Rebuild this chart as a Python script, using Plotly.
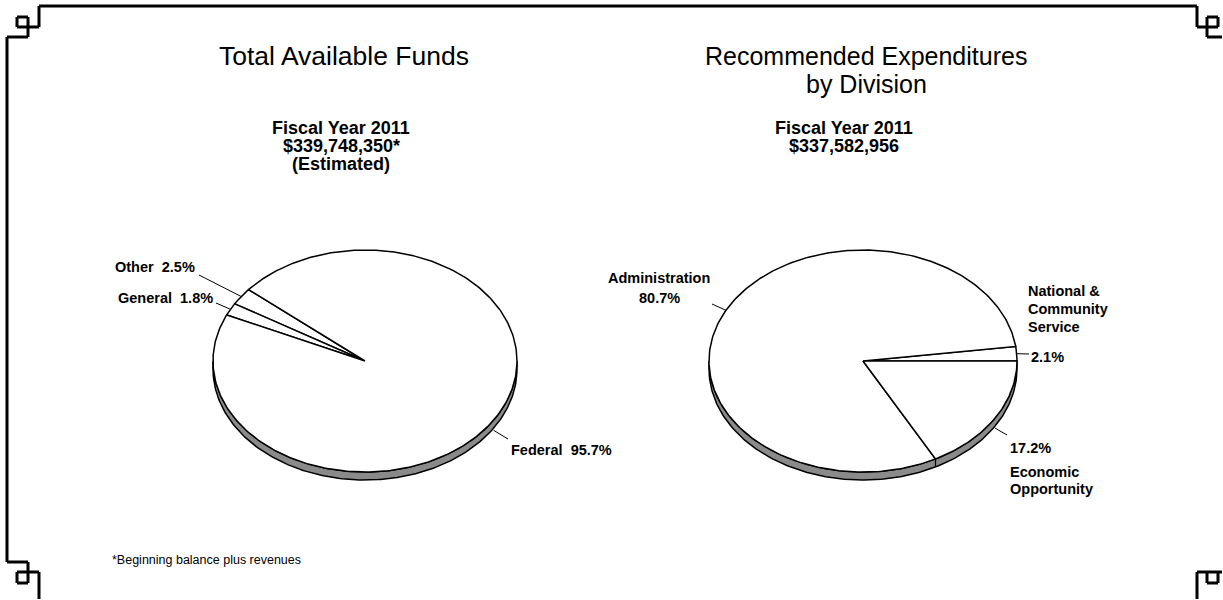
import numpy as np
import plotly.graph_objects as go

FONT = "Liberation Sans, Arial, sans-serif"

# ---- data -------------------------------------------------------------
funds_labels = ["Other", "General", "Federal"]
funds_pct = [2.5, 1.8, 95.7]

div_labels = ["National & Community Service", "Administration", "Economic Opportunity"]
div_pct = [2.1, 80.7, 17.2]

funds_title = ["Total Available Funds"]
funds_sub = ["Fiscal Year 2011", "$339,748,350*", "(Estimated)"]
div_title = ["Recommended Expenditures", "by Division"]
div_sub = ["Fiscal Year 2011", "$337,582,956"]
footnote = "*Beginning balance plus revenues"

# ---- pie geometry (tilted, elliptical pies with a shaded rim) -----------
PIES = {
    "funds": dict(cx=365, cy=361, a=152, b=111, depth=8, start=140),
    "div": dict(cx=863, cy=361, a=154, b=111, depth=8, start=0),
}

# label placement: list of (text lines, x, first y, xanchor, line step), leader end
LABELS = {
    "Other": dict(texts=[(["Other  {p}%"], 197, 267, "right", 18)], tail=(199, 275)),
    "General": dict(texts=[(["General  {p}%"], 215, 298, "right", 18)], tail=(216, 303)),
    "Federal": dict(texts=[(["Federal  {p}%"], 509, 450, "left", 18)], tail=(508, 439)),
    "Administration": dict(texts=[(["Administration", "{p}%"], 659, 278, "center", 20)],
                           tail=(712, 304)),
    "National & Community Service": dict(
        texts=[(["National &", "Community", "Service"], 1026, 291, "left", 18),
               (["{p}%"], 1029, 357, "left", 18)],
        tail=(1029, 354)),
    "Economic Opportunity": dict(
        texts=[(["{p}%"], 1008, 448, "left", 18),
               (["Economic", "Opportunity"], 1008, 472, "left", 17)],
        tail=(1007, 435)),
}

fig = go.Figure()
annotations = []
shapes = []


def ell(g, t_deg, drop=0.0):
    t = np.radians(t_deg)
    return g["cx"] + g["a"] * np.cos(t), g["cy"] - g["b"] * np.sin(t) + drop


def add_line(xs, ys, width=1.0):
    fig.add_trace(go.Scatter(x=xs, y=ys, mode="lines",
                             line=dict(color="black", width=width),
                             hoverinfo="skip", showlegend=False))


def draw_pie(g, labels, pcts):
    # rim on the front half of the ellipse
    t = np.linspace(180, 360, 200)
    xt, yt = ell(g, t)
    xb, yb = ell(g, t[::-1], g["depth"])
    fig.add_trace(go.Scatter(x=np.r_[xt, xb, xt[:1]], y=np.r_[yt, yb, yt[:1]],
                             fill="toself", fillcolor="#8a8a8a", mode="lines",
                             line=dict(color="black", width=1.5),
                             hoverinfo="skip", showlegend=False))
    a0 = g["start"]
    for lab, p in zip(labels, pcts):
        a1 = a0 + p * 3.6
        n = max(int(abs(a1 - a0)), 2) + 1
        ang = np.linspace(a0, a1, n)
        xs, ys = ell(g, ang)
        fig.add_trace(go.Scatter(x=np.r_[g["cx"], xs, g["cx"]],
                                 y=np.r_[g["cy"], ys, g["cy"]],
                                 fill="toself", fillcolor="white", mode="lines",
                                 line=dict(color="black", width=1.5),
                                 name=lab, hoverinfo="name", showlegend=False))
        # seam on the rim where a slice boundary crosses the front half
        m = a0 % 360
        if 180 < m < 360:
            x0, y0 = ell(g, m)
            add_line([x0, x0], [y0, y0 + g["depth"]], 1.2)

        # leader line and label
        mid = (a0 + a1) / 2
        sx, sy = ell(g, mid)
        if np.sin(np.radians(mid)) < 0:
            sy += g["depth"] + 2
        spec = LABELS[lab]
        add_line([sx, spec["tail"][0]], [sy, spec["tail"][1]], 1.0)
        for lines, x, y, xanchor, step in spec["texts"]:
            for i, txt in enumerate(lines):
                annotations.append(dict(
                    x=x, y=y + i * step, xref="x", yref="y",
                    text="<b>" + txt.format(p=p) + "</b>", showarrow=False,
                    xanchor=xanchor, yanchor="middle",
                    font=dict(family=FONT, size=14.5, color="black")))
        a0 = a1


draw_pie(PIES["funds"], funds_labels, funds_pct)
draw_pie(PIES["div"], div_labels, div_pct)


def add_block(lines, x, y0, step, size, bold=False):
    for i, txt in enumerate(lines):
        annotations.append(dict(
            x=x, y=y0 + i * step, xref="x", yref="y",
            text=f"<b>{txt}</b>" if bold else txt, showarrow=False,
            xanchor="center", yanchor="middle",
            font=dict(family=FONT, size=size, color="black")))


add_block(funds_title, 344, 56, 28, 26.5)
add_block(div_title, 866, 56, 28, 25)
add_block(funds_sub, 341, 128, 18, 18, bold=True)
add_block(div_sub, 844, 128, 18, 18, bold=True)

annotations.append(dict(x=110, y=560, xref="x", yref="y", text=footnote,
                        showarrow=False, xanchor="left", yanchor="middle",
                        font=dict(family=FONT, size=12.5, color="black")))

# decorative page frame, drawn as separate straight segments
FRAME_PATHS = [
    [(7, 562), (7, 37), (28, 37), (28, 17), (17, 17), (17, 27), (39, 27), (39, 6),
     (1197, 6), (1197, 27), (1218, 27), (1218, 17), (1207, 17), (1207, 37), (1222, 37)],
    [(7, 562), (28, 562), (28, 583), (17, 583), (17, 572), (39, 572), (39, 599)],
    [(1222, 572), (1197, 572), (1197, 599)],
    [(1207, 572), (1207, 583), (1218, 583), (1218, 572)],
]
for pts in FRAME_PATHS:
    for (x0, y0), (x1, y1) in zip(pts[:-1], pts[1:]):
        shapes.append(dict(type="line", xref="x", yref="y",
                           x0=x0, y0=y0, x1=x1, y1=y1,
                           line=dict(color="black", width=3)))

fig.update_layout(
    width=1223, height=600,
    margin=dict(l=0, r=0, t=0, b=0),
    paper_bgcolor="white", plot_bgcolor="white",
    xaxis=dict(range=[0, 1223], visible=False, fixedrange=True),
    yaxis=dict(range=[600, 0], visible=False, fixedrange=True),
    annotations=annotations, shapes=shapes,
    showlegend=False,
)

fig.write_html("out.html")
